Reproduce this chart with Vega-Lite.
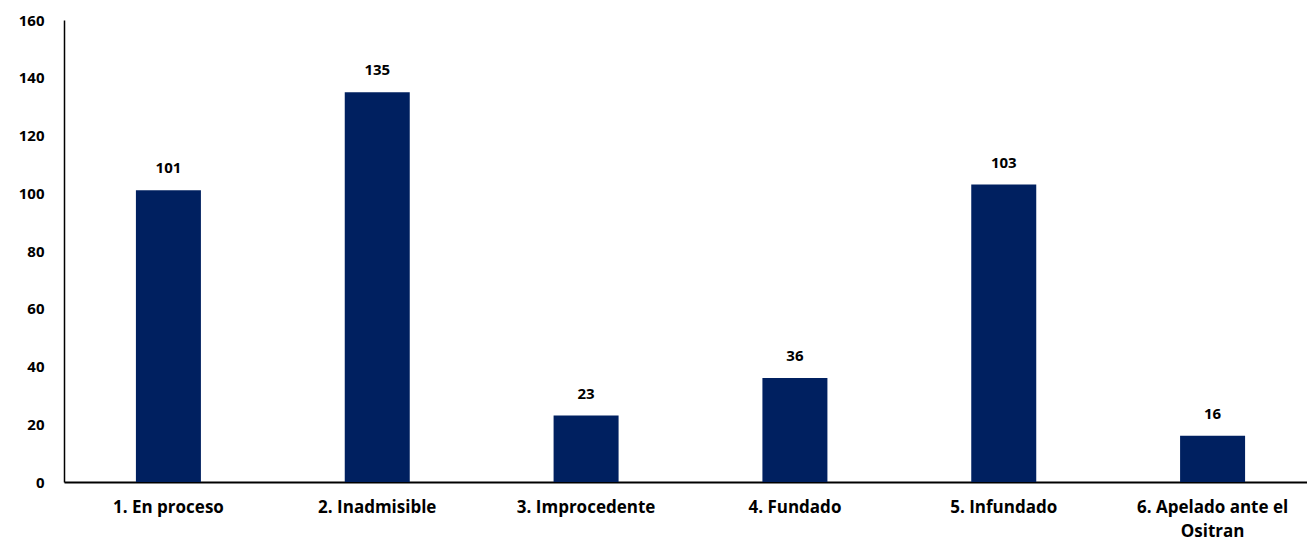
{
  "$schema": "https://vega.github.io/schema/vega-lite/v6.json",
  "autosize": "none",
  "width": 1253,
  "height": 462,
  "padding": {"left": 64, "top": 20, "right": 0, "bottom": 61},
  "background": "white",
  "config": {"view": {"stroke": null}, "font": "Open Sans"},
  "data": {
    "values": [
      {"estado": "1. En proceso", "n": 101},
      {"estado": "2. Inadmisible", "n": 135},
      {"estado": "3. Improcedente", "n": 23},
      {"estado": "4. Fundado", "n": 36},
      {"estado": "5. Infundado", "n": 103},
      {"estado": "6. Apelado ante el Ositran", "n": 16}
    ]
  },
  "encoding": {
    "x": {
      "field": "estado",
      "type": "nominal",
      "sort": null,
      "scale": {"paddingInner": 0, "paddingOuter": 0},
      "axis": {
        "title": null,
        "labelAngle": 0,
        "ticks": false,
        "domainColor": "black",
        "domainWidth": 2,
        "labelFont": "Open Sans",
        "labelFontWeight": "bold",
        "labelFontSize": 17,
        "labelColor": "black",
        "labelPadding": 17,
        "labelLineHeight": 24,
        "labelExpr": "datum.label == '6. Apelado ante el Ositran' ? ['6. Apelado ante el', 'Ositran'] : datum.label"
      }
    },
    "y": {
      "field": "n",
      "type": "quantitative",
      "scale": {"domain": [0, 160]},
      "axis": {
        "title": null,
        "values": [0, 20, 40, 60, 80, 100, 120, 140, 160],
        "grid": false,
        "ticks": false,
        "domainColor": "black",
        "domainWidth": 1.5,
        "labelFont": "Open Sans",
        "labelFontWeight": "bold",
        "labelFontSize": 15,
        "labelColor": "black",
        "labelPadding": 20
      }
    }
  },
  "layer": [
    {"mark": {"type": "bar", "color": "#002060", "size": 65}},
    {
      "mark": {"type": "text", "dy": -22, "baseline": "middle", "fontWeight": "bold", "fontSize": 15, "color": "black", "font": "Open Sans"},
      "encoding": {"text": {"field": "n", "type": "quantitative"}}
    }
  ]
}
